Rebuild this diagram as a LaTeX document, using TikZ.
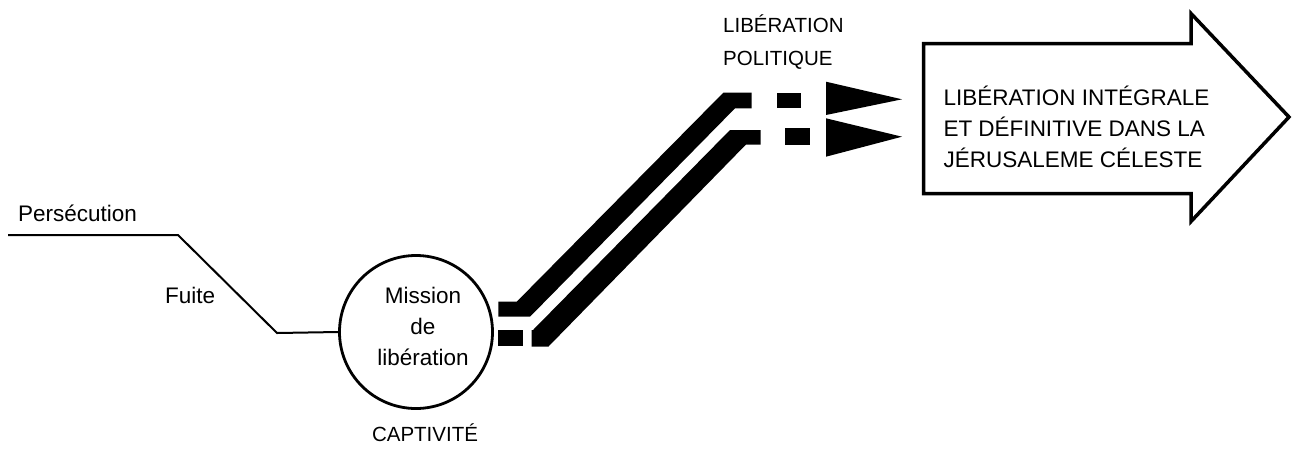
\documentclass[tikz,border=0pt]{standalone}
\usepackage{fontspec}
\setmainfont{Liberation Sans}
\tikzset{
  lowtxt/.style={inner sep=0pt, font=\fontsize{22.5}{31}\selectfont},
  captxt/.style={inner sep=0pt, font=\fontsize{20.5}{33}\selectfont},
  bigtxt/.style={inner sep=0pt, font=\fontsize{22.5}{31}\selectfont},
  thinline/.style={line width=2pt, line join=miter},
  band/.style={fill=black},
  bigarrow/.style={draw=black, line width=3.5pt, line join=miter, fill=white},
}
\begin{document}
\begin{tikzpicture}[x=1pt,y=-1pt]
\useasboundingbox (0,0) rectangle (1294,451);

% path of flight
\node[lowtxt, anchor=base west] (pers) at (18,221.7) {Persécution};
\node[lowtxt, anchor=base west] (fuite) at (165,303.5) {Fuite};
\node[draw, circle, line width=2.8pt, minimum size=153pt, inner sep=0pt] (mission) at (416,332) {};
\node[lowtxt, align=center, anchor=base] (mtext) at (423,365) {Mission\\de\\libération};
\node[captxt, anchor=base] (capt) at (425,441.7) {CAPTIVITÉ};

\coordinate (p0) at (8,235);
\coordinate (p1) at (178,235);
\coordinate (p2) at (277,333);
\draw[thinline] (p0) -- (p1) -- (p2) -- (mission.west);

% bands
\fill[band] (498.3,301.7) -- (516.7,301.7) -- (723.3,92.7) -- (751.7,92.7)
  -- (751.7,108.3) -- (735,108.3) -- (530,316.7) -- (498.3,316.7) -- cycle;
\fill[band] (531.7,330) -- (533,330) -- (730,130) -- (760.7,130)
  -- (760.7,144.5) -- (746,144.5) -- (548.3,346.7) -- (531.7,346.7) -- cycle;
\fill[band] (498.3,330) rectangle (523,345.5);
\fill[band] (776.7,92.7) rectangle (800.7,108.3);
\fill[band] (785,128.3) rectangle (810,145);
\fill[band] (826,81.7) -- (902,99.3) -- (826,115) -- cycle;
\fill[band] (826,118.3) -- (902,136.7) -- (826,156.7) -- cycle;

\node[captxt, align=left, anchor=base west] (polit) at (723,65) {LIBÉRATION\\POLITIQUE};

% big arrow
\draw[bigarrow] (923.5,43.5) -- (1191,43.5) -- (1191,13.5) -- (1289,117)
  -- (1191,221.5) -- (1191,193.5) -- (923.5,193.5) -- cycle;
\node[bigtxt, align=left, anchor=base west] (integ) at (943.3,167)
  {LIBÉRATION INTÉGRALE\\ET DÉFINITIVE DANS LA\\JÉRUSALEME CÉLESTE};
\end{tikzpicture}
\end{document}
